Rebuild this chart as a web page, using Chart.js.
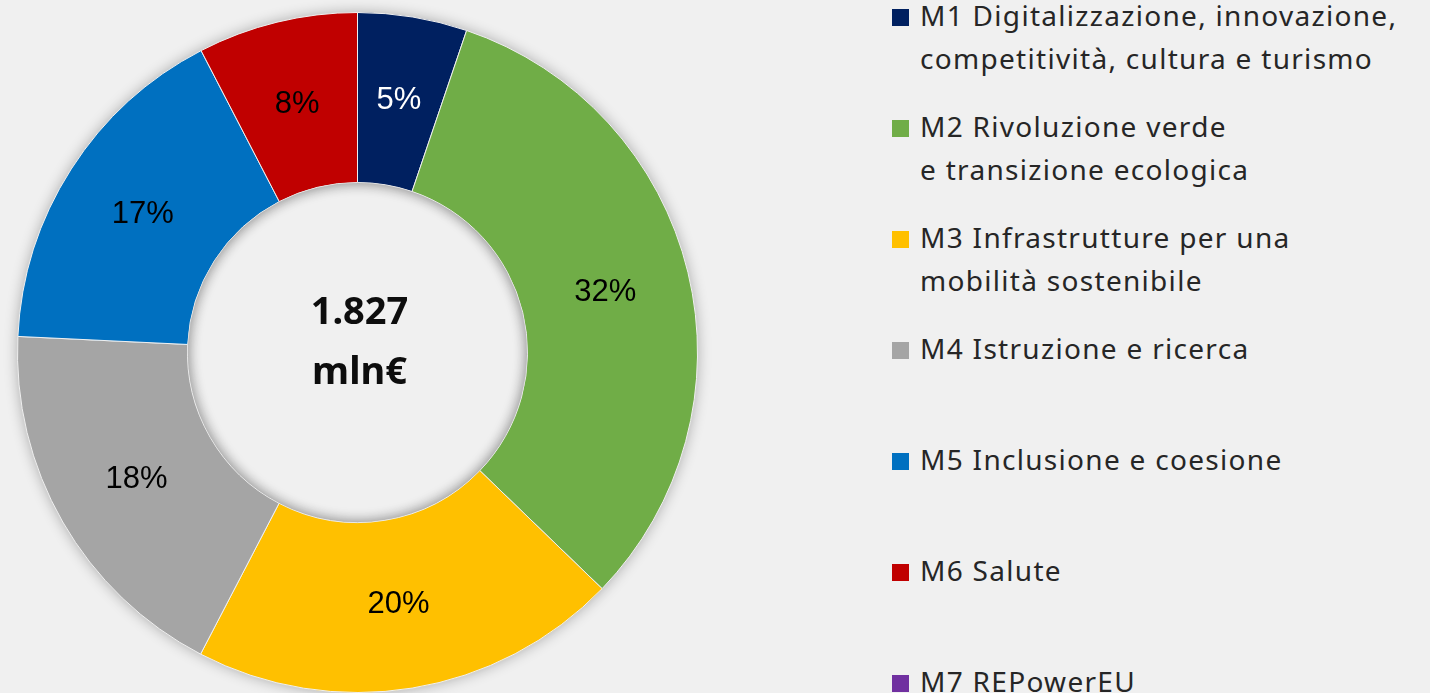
<!DOCTYPE html>
<html>
<head>
<meta charset="utf-8">
<script src="https://cdn.jsdelivr.net/npm/chart.js@4.4.1/dist/chart.umd.min.js"></script>
<style>
  html, body { margin: 0; padding: 0; background: #f0f0f0; }
  #wrap { position: relative; width: 1430px; height: 693px; overflow: hidden; }
  #chartBox { position: absolute; left: 0; top: 0; width: 715px; height: 693px; }
  #legend { position: absolute; left: 892px; top: -6px; font-family: "Noto Sans", sans-serif; font-size: 28px; letter-spacing: 1.3px; color: #262626; }
  .item { position: relative; height: 111px; }
  .box { position: absolute; left: 0; top: 15px; width: 17px; height: 17px; }
  .txt { position: absolute; left: 28px; top: 0; line-height: 43px; white-space: nowrap; }
</style>
</head>
<body>
<div id="wrap">
  <div id="chartBox"><canvas id="donut"></canvas></div>
  <div id="legend"></div>
</div>
<script>
const labels = [
  "M1 Digitalizzazione, innovazione,\ncompetitività, cultura e turismo",
  "M2 Rivoluzione verde\ne transizione ecologica",
  "M3 Infrastrutture per una\nmobilità sostenibile",
  "M4 Istruzione e ricerca",
  "M5 Inclusione e coesione",
  "M6 Salute",
  "M7 REPowerEU"
];
// mln€ per missione
const values = [95, 585, 373, 331, 304, 139, 0];
const colors = ["#002060", "#70ad47", "#ffc000", "#a5a5a5", "#0070c0", "#c00000", "#7030a0"];
const labelColors = ["#ffffff", "#000000", "#000000", "#000000", "#000000", "#000000", "#000000"];
const centerText = ["1.827", "mln€"];

const total = values.reduce((a, b) => a + b, 0);

// legend as html
const legendEl = document.getElementById('legend');
labels.forEach((l, i) => {
  const item = document.createElement('div');
  item.className = 'item';
  const box = document.createElement('div');
  box.className = 'box';
  box.style.background = colors[i];
  const txt = document.createElement('div');
  txt.className = 'txt';
  txt.innerHTML = l.split('\n').join('<br>');
  item.appendChild(box);
  item.appendChild(txt);
  legendEl.appendChild(item);
});

const ringShadow = {
  id: 'ringShadow',
  beforeDatasetsDraw(chart) {
    const arc = chart.getDatasetMeta(0).data[0];
    if (!arc) return;
    const ctx = chart.ctx;
    ctx.save();
    ctx.beginPath();
    ctx.arc(arc.x, arc.y, arc.outerRadius, 0, Math.PI * 2);
    ctx.arc(arc.x, arc.y, arc.innerRadius, 0, Math.PI * 2, true);
    ctx.shadowColor = 'rgba(0,0,0,0.3)';
    ctx.shadowBlur = 14;
    ctx.fillStyle = '#a5a5a5';
    ctx.fill();
    ctx.restore();
  },
  afterDatasetsDraw(chart) {
    const meta = chart.getDatasetMeta(0);
    const arc = meta.data[0];
    const ctx = chart.ctx;
    // inner shadow in the hole
    ctx.save();
    ctx.beginPath();
    ctx.arc(arc.x, arc.y, arc.innerRadius, 0, Math.PI * 2);
    ctx.clip();
    ctx.beginPath();
    ctx.arc(arc.x, arc.y, arc.innerRadius + 20, 0, Math.PI * 2);
    ctx.lineWidth = 40;
    ctx.strokeStyle = '#f0f0f0';
    ctx.shadowColor = 'rgba(0,0,0,0.25)';
    ctx.shadowBlur = 14;
    ctx.stroke();
    ctx.restore();

    // percent labels
    ctx.save();
    ctx.font = '31px "Liberation Sans", Arial, sans-serif';
    ctx.textAlign = 'center';
    ctx.textBaseline = 'middle';
    meta.data.forEach((a, i) => {
      if (!values[i]) return;
      const mid = (a.startAngle + a.endAngle) / 2;
      const r = (a.innerRadius + a.outerRadius) / 2;
      ctx.fillStyle = labelColors[i];
      ctx.fillText(Math.round(values[i] / total * 100) + '%', a.x + Math.cos(mid) * r, a.y + Math.sin(mid) * r);
    });
    // center text
    ctx.fillStyle = '#0d0d0d';
    ctx.font = 'bold 38px "Noto Sans", sans-serif';
    ctx.fillText(centerText[0], arc.x + 2, arc.y - 39);
    ctx.fillText(centerText[1], arc.x + 2, arc.y + 21);
    ctx.restore();
  }
};

new Chart(document.getElementById('donut'), {
  type: 'doughnut',
  data: {
    labels: labels,
    datasets: [{
      data: values,
      backgroundColor: colors,
      borderColor: '#f0f0f0',
      borderWidth: 1
    }]
  },
  options: {
    responsive: true,
    maintainAspectRatio: false,
    animation: false,
    cutout: '50%',
    layout: { padding: { top: 12, bottom: 0 } },
    plugins: {
      legend: { display: false },
      tooltip: { enabled: false }
    }
  },
  plugins: [ringShadow]
});
</script>
</body>
</html>
